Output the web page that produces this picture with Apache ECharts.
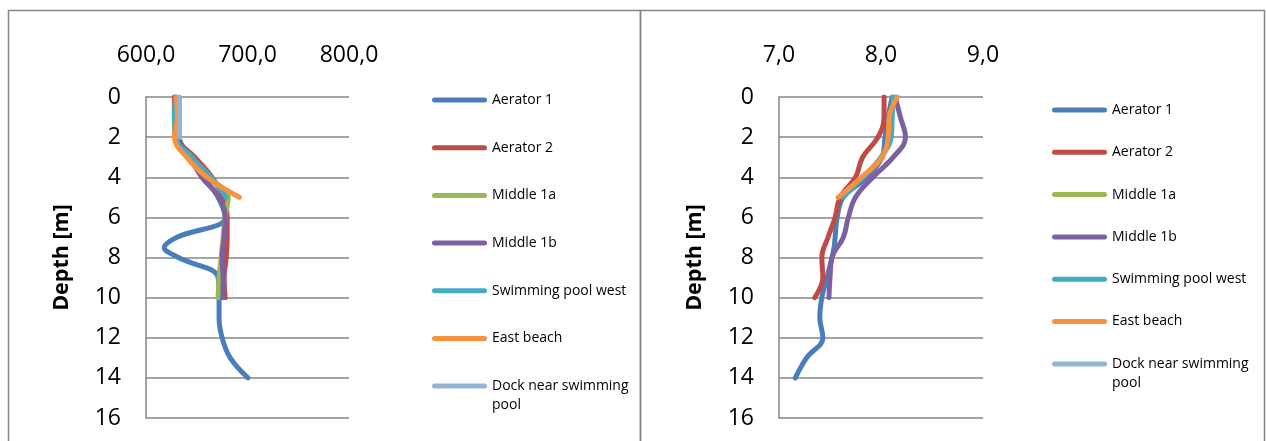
<!DOCTYPE html>
<html>
<head>
<meta charset="utf-8">
<script src="https://cdn.jsdelivr.net/npm/echarts@6/dist/echarts.min.js"></script>
<style>
  html, body { margin: 0; padding: 0; background: #ffffff; }
  #chart { width: 1266px; height: 441px; }
</style>
</head>
<body>
<div id="chart"></div>
<script>
// Station names and their line colours
const seriesNames = ['Aerator 1', 'Aerator 2', 'Middle 1a', 'Middle 1b', 'Swimming pool west', 'East beach', 'Dock near swimming pool'];
const seriesColors = ['#4a7ebb', '#be4b48', '#98b954', '#7d60a0', '#46aac5', '#f69240', '#95b3d7'];

// Depth axis ticks and value axis ticks
const depthTicks = [0, 2, 4, 6, 8, 10, 12, 14, 16];
const leftValueTicks = [600, 700, 800];
const rightValueTicks = [7, 8, 9];

// Sampling depths [m] for each station
const depthAerator1 = [0, 1, 2, 3, 4, 5, 6, 7, 7.5, 8, 9, 10, 11, 12, 13, 14];
const depthTo10 = [0, 1, 2, 3, 4, 5, 6, 7, 8, 9, 10];
const depthTo5 = [0, 1, 2, 3, 4, 5];
const depthTo2 = [0, 1, 2];

// Left panel profiles
const leftAerator1 = [628, 628, 629, 642, 657, 671, 678, 630, 618, 632, 671, 672, 672, 675, 683, 700.5];
const leftAerator2 = [628, 628, 630, 648, 665, 676, 680, 680, 679, 677, 678];
const leftMiddle1a = [629, 629, 630, 645, 662, 681, 678, 676, 674, 672, 671];
const leftMiddle1b = [630, 630, 632, 643, 655, 672, 678, 677, 675, 676, 676];
const leftPoolWest = [629, 628, 629, 645, 664, 679];
const leftEastBeach = [630, 631, 628, 640, 660, 692];
const leftDock = [633, 633, 633];

// Right panel profiles
const rightAerator1 = [8.11, 8.07, 8.04, 8.01, 7.86, 7.63, 7.57, 7.55, 7.54, 7.52, 7.47, 7.42, 7.40, 7.43, 7.27, 7.16];
const rightAerator2 = [8.03, 8.03, 7.97, 7.82, 7.75, 7.60, 7.55, 7.48, 7.42, 7.43, 7.35];
const rightMiddle1a = [];
const rightMiddle1b = [8.14, 8.19, 8.24, 8.12, 7.92, 7.75, 7.68, 7.63, 7.52, 7.50, 7.49];
const rightPoolWest = [8.12, 8.11, 8.10, 8.00, 7.82, 7.62];
const rightEastBeach = [8.16, 8.08, 8.07, 8.01, 7.81, 7.58];
const rightDock = [];

const leftProfiles = [
  [leftAerator1, depthAerator1], [leftAerator2, depthTo10], [leftMiddle1a, depthTo10],
  [leftMiddle1b, depthTo10], [leftPoolWest, depthTo5], [leftEastBeach, depthTo5], [leftDock, depthTo2]
];
const rightProfiles = [
  [rightAerator1, depthAerator1], [rightAerator2, depthTo10], [rightMiddle1a, depthTo10],
  [rightMiddle1b, depthTo10], [rightPoolWest, depthTo5], [rightEastBeach, depthTo5], [rightDock, depthTo2]
];

const FONT = 'Open Sans';
const GRID_COLOR = '#868686';
const LINE_WIDTH = 5;
// pill-shaped legend sample
const LEGEND_ICON = 'path://M2.5,0 L52.5,0 A2.5,2.5 0 0 1 52.5,5 L2.5,5 A2.5,2.5 0 0 1 2.5,0 Z';

function pairs(values, depths) {
  return values.map((v, i) => [v, depths[i]]);
}

function buildSeries(profiles, axisIndex) {
  return profiles.map(([values, depths], i) => ({
    name: seriesNames[i],
    type: 'line',
    xAxisIndex: axisIndex,
    yAxisIndex: axisIndex,
    data: pairs(values, depths),
    smooth: 0.4,
    symbol: 'none',
    lineStyle: { width: LINE_WIDTH, color: seriesColors[i], cap: 'round', join: 'round' },
    itemStyle: { color: seriesColors[i] },
    z: 2 + i,
    silent: true
  }));
}

function valueAxis(gridIndex, ticks, digits) {
  return {
    type: 'value',
    gridIndex: gridIndex,
    position: 'top',
    min: ticks[0],
    max: ticks[ticks.length - 1],
    interval: ticks[1] - ticks[0],
    axisLine: { show: false },
    axisTick: { show: false },
    splitLine: { show: false },
    axisLabel: {
      margin: 30,
      fontFamily: FONT,
      fontSize: 23,
      color: '#000000',
      formatter: v => v.toFixed(digits).replace('.', ',')
    }
  };
}

function depthAxis(gridIndex) {
  return {
    type: 'value',
    gridIndex: gridIndex,
    inverse: true,
    min: depthTicks[0],
    max: depthTicks[depthTicks.length - 1],
    interval: depthTicks[1] - depthTicks[0],
    name: 'Depth [m]',
    nameLocation: 'middle',
    nameRotate: 90,
    nameGap: 73,
    nameTextStyle: { fontFamily: FONT, fontSize: 21.5, fontWeight: 'bold', color: '#000000' },
    axisLine: { show: true, lineStyle: { color: GRID_COLOR, width: 1.5 } },
    axisTick: { show: false },
    splitLine: { show: true, lineStyle: { color: GRID_COLOR, width: 1.5 } },
    axisLabel: { margin: 25, fontFamily: FONT, fontSize: 23, color: '#000000' }
  };
}

const legendText = { fontFamily: FONT, fontSize: 14, color: '#000000' };

function mainLegend(left, top, gap) {
  return {
    orient: 'vertical', left: left, top: top, padding: 0,
    icon: LEGEND_ICON,
    itemWidth: 55, itemHeight: 5, itemGap: gap,
    selectedMode: false,
    data: seriesNames.slice(0, 6),
    textStyle: Object.assign({ lineHeight: 14 }, legendText)
  };
}

// The last entry wraps onto two lines; an empty leading line keeps the
// first text line level with its sample line.
function dockLegend(left, top) {
  return {
    orient: 'vertical', left: left, top: top, padding: 0,
    icon: LEGEND_ICON,
    itemWidth: 55, itemHeight: 5,
    selectedMode: false,
    data: [seriesNames[6]],
    formatter: () => ' \nDock near swimming\npool',
    textStyle: Object.assign({ lineHeight: 19 }, legendText)
  };
}

const chart = echarts.init(document.getElementById('chart'), null, { renderer: 'canvas' });
chart.setOption({
  animation: false,
  backgroundColor: '#ffffff',
  graphic: [
    { type: 'rect', shape: { x: 8.5, y: 10.5, width: 632, height: 460 },
      style: { fill: 'none', stroke: GRID_COLOR, lineWidth: 1.5 }, silent: true },
    { type: 'rect', shape: { x: 640.5, y: 10.5, width: 624, height: 460 },
      style: { fill: 'none', stroke: GRID_COLOR, lineWidth: 1.5 }, silent: true }
  ],
  grid: [
    { left: 146, top: 97, width: 203, height: 321 },
    { left: 779, top: 97, width: 204, height: 321 }
  ],
  xAxis: [valueAxis(0, leftValueTicks, 1), valueAxis(1, rightValueTicks, 1)],
  yAxis: [depthAxis(0), depthAxis(1)],
  legend: [
    mainLegend(432, 93, 33.7),
    dockLegend(432, 357.5),
    mainLegend(1052, 103, 28.3),
    dockLegend(1052, 335.5)
  ],
  series: buildSeries(leftProfiles, 0).concat(buildSeries(rightProfiles, 1))
});
</script>
</body>
</html>
